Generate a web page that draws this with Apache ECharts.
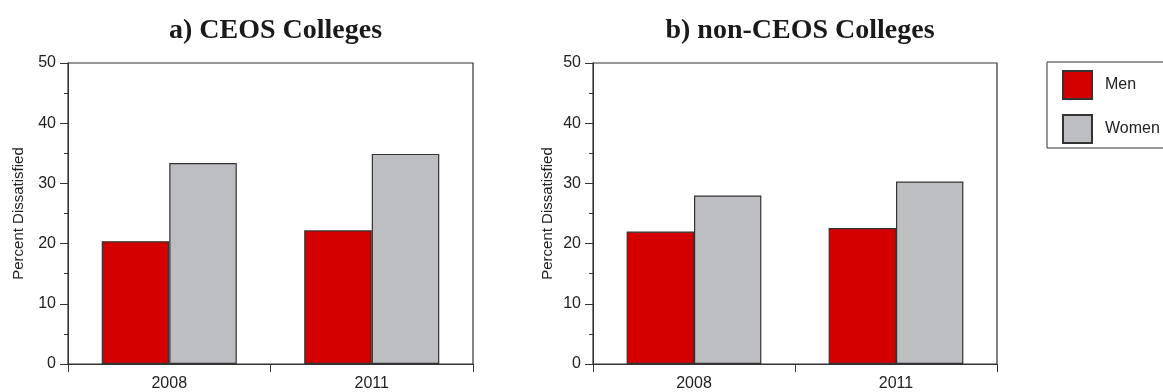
<!DOCTYPE html>
<html>
<head>
<meta charset="utf-8">
<script src="https://cdn.jsdelivr.net/npm/echarts@6/dist/echarts.min.js"></script>
<style>
  html, body { margin: 0; padding: 0; background: #fff; }
  #chart { width: 1163px; height: 392px; }
</style>
</head>
<body>
<div id="chart"></div>
<script>
// Survey years on the x axis
const years = ['2008', '2011'];
// Percent dissatisfied, CEOS colleges
const ceosMen = [20.4, 22.2];
const ceosWomen = [33.4, 34.9];
// Percent dissatisfied, non-CEOS colleges
const nonCeosMen = [22.0, 22.6];
const nonCeosWomen = [28.0, 30.3];
// Panel titles
const panelTitles = ['a) CEOS Colleges', 'b) non-CEOS Colleges'];

const RED = '#d40000';
const GRAY = '#bdbec2';
const INK = '#333';
const FONT = '"Liberation Sans", Arial, sans-serif';

function xAxis(gridIndex) {
  return {
    type: 'category', gridIndex, data: years,
    axisLine: { lineStyle: { color: INK, width: 1 } },
    axisTick: { show: true, length: 8, lineStyle: { color: INK } },
    axisLabel: { color: '#222', fontSize: 16, fontFamily: FONT, margin: 12 }
  };
}
function yAxis(gridIndex, gap) {
  return {
    type: 'value', gridIndex, min: 0, max: 50, interval: 10,
    name: 'Percent Dissatisfied', nameLocation: 'middle', nameGap: gap,
    nameTextStyle: { color: '#222', fontSize: 15, fontFamily: FONT },
    axisLine: { show: true, lineStyle: { color: INK, width: 1 } },
    axisTick: { show: true, length: 8, lineStyle: { color: INK } },
    minorTick: { show: true, splitNumber: 2, length: 4, lineStyle: { color: INK } },
    splitLine: { show: false },
    axisLabel: { color: '#222', fontSize: 16, fontFamily: FONT, margin: 12 }
  };
}
function bar(name, data, color, idx) {
  return {
    name, type: 'bar', data, xAxisIndex: idx, yAxisIndex: idx,
    barGap: '0%', barCategoryGap: '33.3%',
    itemStyle: { color, borderColor: INK, borderWidth: 1.2 },
    emphasis: { disabled: true }
  };
}

const titleStyle = { fontFamily: '"Liberation Serif", serif', fontWeight: 'bold', fontSize: 28, color: '#1a1a1a' };

const chart = echarts.init(document.getElementById('chart'), null, { renderer: 'canvas' });
chart.setOption({
  animation: false,
  backgroundColor: '#fff',
  title: [
    { text: panelTitles[0], left: 270.5, textAlign: 'center', top: 12, textStyle: titleStyle },
    { text: panelTitles[1], left: 795, textAlign: 'center', top: 12, textStyle: titleStyle }
  ],
  legend: {
    orient: 'vertical', left: 1047, top: 62,
    padding: [8, 40, 4, 15], itemGap: 14, itemWidth: 29, itemHeight: 28,
    borderColor: INK, borderWidth: 1,
    icon: 'rect',
    data: ['Men', 'Women'],
    textStyle: { fontSize: 16, fontFamily: FONT, color: '#222', padding: [0, 0, 0, 8] }
  },
  grid: [
    { left: 68, right: 690, top: 63, bottom: 24, show: true, borderColor: INK, borderWidth: 1.2 },
    { left: 593, right: 166, top: 63, bottom: 24, show: true, borderColor: INK, borderWidth: 1.2 }
  ],
  xAxis: [xAxis(0), xAxis(1)],
  yAxis: [yAxis(0, 42), yAxis(1, 38)],
  series: [
    bar('Men', ceosMen, RED, 0),
    bar('Women', ceosWomen, GRAY, 0),
    bar('Men', nonCeosMen, RED, 1),
    bar('Women', nonCeosWomen, GRAY, 1)
  ]
});
</script>
</body>
</html>
